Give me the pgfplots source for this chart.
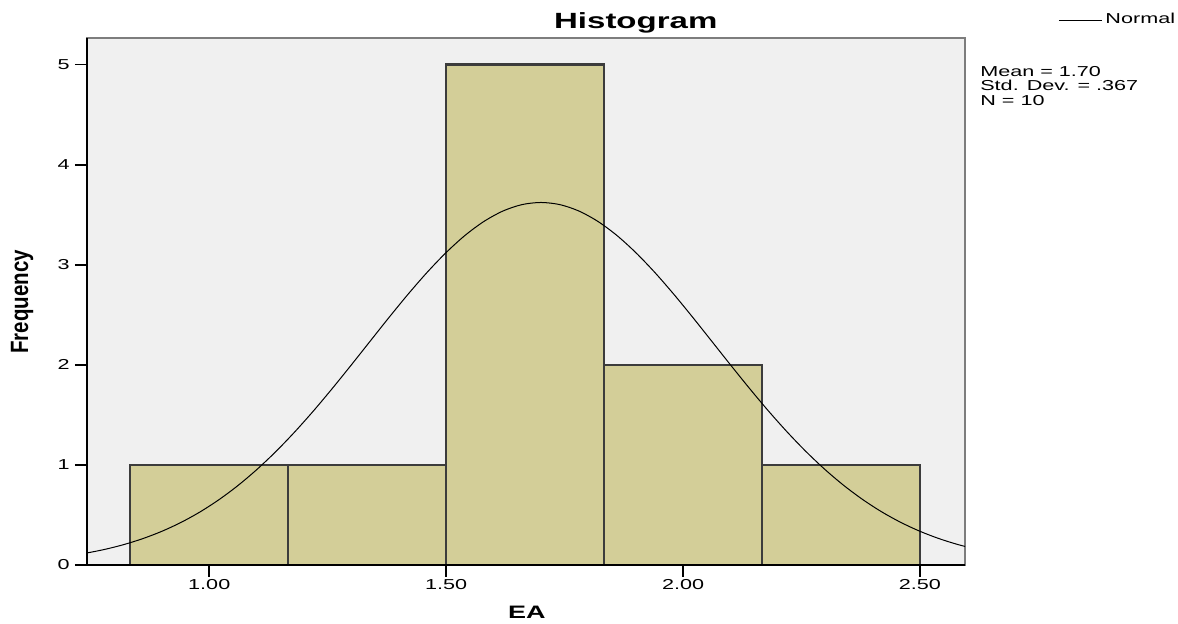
\documentclass[border=0pt]{standalone}
\usepackage{graphicx}
\usepackage{pgfplots}
\pgfplotsset{compat=1.18}
\usepackage{fontspec}
\setmainfont{Liberation Sans}[FakeStretch=1.5]
\newfontfamily\plainsans{Liberation Sans}
\definecolor{bgc}{RGB}{240,240,240}
\definecolor{barc}{RGB}{211,206,152}
\definecolor{edgec}{RGB}{60,60,60}
\definecolor{boxc}{RGB}{125,125,125}
\begin{document}
\begin{tikzpicture}
\path[use as bounding box] (-43.5pt,-29.5pt) rectangle (545.5pt,282.5pt);
\begin{axis}[
  at={(0,0)}, anchor=south west,
  width=439pt, height=263.5pt, scale only axis,
  xmin=0.742, xmax=2.595, ymin=0, ymax=5.267,
  axis background/.style={fill=bgc},
  axis line style={draw=boxc, line width=0.75pt},
  xtick={1,1.5,2,2.5}, xticklabels={1.00,1.50,2.00,2.50},
  ytick={0,1,2,3,4,5}, yticklabels={0,1,2,3,4,5},
  /pgf/number format/assume math mode=true,
  tick pos=left,
  tick align=outside, major tick length=6pt,
  tick style={black, line width=0.75pt},
  x tick label style={font=\fontsize{7.2}{8}\selectfont, inner sep=1pt},
  y tick label style={font=\fontsize{7.2}{8}\selectfont, inner sep=2.5pt},
  xlabel={\bfseries\fontsize{9}{10}\selectfont EA},
  xlabel style={at={(axis description cs:0.501,-0.1006)}, anchor=base},
  ylabel={\scalebox{0.82}[1]{\plainsans\bfseries\fontsize{12.5}{13}\selectfont Frequency}},
  ylabel style={at={(axis description cs:-0.074,0.499)}, anchor=center},
  legend style={at={(1.106,1.034)}, anchor=west, draw=none, fill=none,
    inner sep=0pt, font=\fontsize{7.2}{8}\selectfont,
    nodes={inner sep=1.5pt}},
  legend cell align=left,
  legend image code/.code={\draw (0pt,0pt) -- (21.5pt,0pt);},
  after end axis/.code={
    \draw[black, line width=0.75pt] (rel axis cs:0,1) -- (rel axis cs:0,0) -- (rel axis cs:1,0);
    \node[anchor=base, font=\bfseries\fontsize{11}{12}\selectfont] at (rel axis cs:0.625,1.0171) {Histogram};
    \node[anchor=north west, align=left, inner sep=0pt, font=\fontsize{7.2}{7.25}\selectfont]
      at (rel axis cs:1.017,0.947) {Mean = 1.70\\Std. Dev. = .367\\N = 10};
  },
]
\addplot[ybar interval, fill=barc, draw=edgec, line width=1.2pt, forget plot]
  coordinates {(0.8333,1) (1.1667,1) (1.5,5) (1.8333,2) (2.1667,1) (2.5,1)};
\addplot[black, line width=0.5pt, smooth, no marks] coordinates {
(0.74,0.1183) (0.78,0.1564) (0.82,0.2044) (0.86,0.2639) (0.90,0.3367)
(0.94,0.4245) (0.98,0.5288) (1.02,0.6511) (1.06,0.7920) (1.10,0.9521)
(1.14,1.1310) (1.18,1.3278) (1.22,1.5403) (1.26,1.7659) (1.30,2.0004)
(1.34,2.2393) (1.38,2.4774) (1.42,2.7082) (1.46,2.9256) (1.50,3.1230)
(1.54,3.2947) (1.58,3.4344) (1.62,3.5379) (1.66,3.6016) (1.70,3.6230)
(1.74,3.6016) (1.78,3.5379) (1.82,3.4344) (1.86,3.2947) (1.90,3.1230)
(1.94,2.9256) (1.98,2.7082) (2.02,2.4774) (2.06,2.2393) (2.10,2.0004)
(2.14,1.7659) (2.18,1.5403) (2.22,1.3278) (2.26,1.1310) (2.30,0.9521)
(2.34,0.7920) (2.38,0.6511) (2.42,0.5288) (2.46,0.4245) (2.50,0.3367)
(2.54,0.2639) (2.58,0.2044) (2.62,0.1564)};
\addlegendentry{Normal}
\end{axis}
\end{tikzpicture}
\end{document}
